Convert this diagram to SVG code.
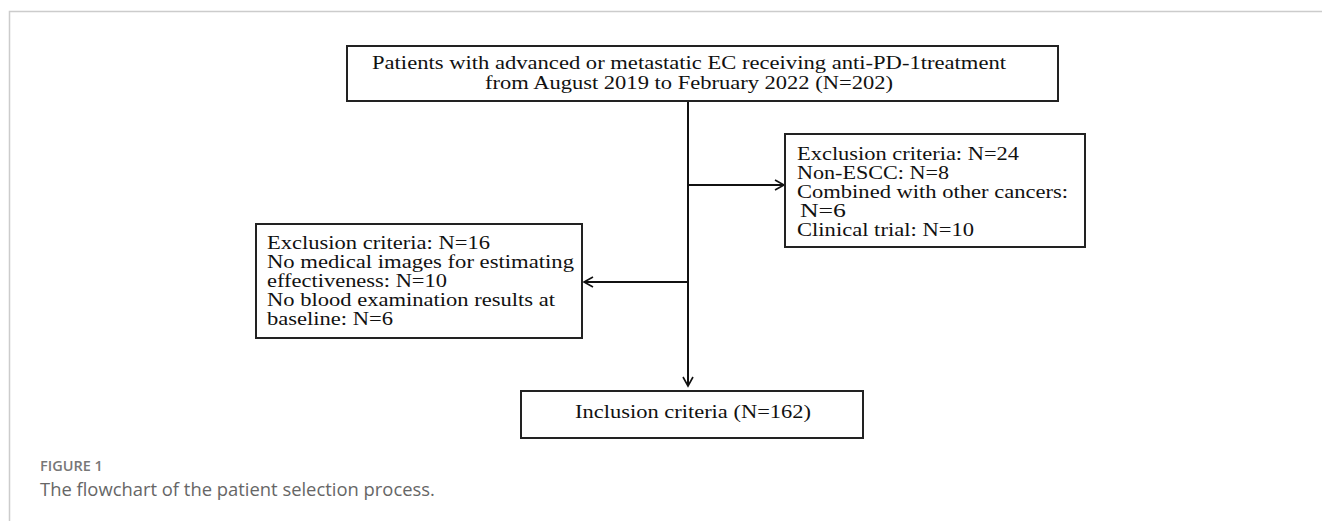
<svg xmlns="http://www.w3.org/2000/svg" width="1322" height="521" viewBox="0 0 1322 521">
<style>
.box{fill:#fff;stroke:#222;stroke-width:2}
.t{font-family:"Liberation Serif",serif;font-size:18px;fill:#111}
.c{stroke:#111;stroke-width:2;fill:none}
.cap1{font-family:"Open Sans","Liberation Sans",sans-serif;font-size:14.5px;fill:#777;font-weight:600}
.cap2{font-family:"Open Sans","Liberation Sans",sans-serif;font-size:18.4px;fill:#666}
</style>
<defs>
<marker id="arr" markerWidth="12" markerHeight="12" refX="10" refY="6" orient="auto" markerUnits="userSpaceOnUse">
<path d="M1,1 L10,6 L1,11" fill="none" stroke="#111" stroke-width="1.6"/>
</marker>
</defs>
<rect width="1322" height="521" fill="#fff"/>
<path d="M9.5,521 V11.5 H1322" fill="none" stroke="#ccc" stroke-width="1.5"/>
<g id="connectors">
<line class="c" x1="688" y1="101" x2="688" y2="386" marker-end="url(#arr)"/>
<line class="c" x1="688" y1="185" x2="784" y2="185" marker-end="url(#arr)"/>
<line class="c" x1="688" y1="282" x2="584" y2="282" marker-end="url(#arr)"/>
</g>
<g id="n_top">
<rect class="box" x="347" y="46" width="711" height="55"/>
<text class="t" x="372" y="69" textLength="634" lengthAdjust="spacingAndGlyphs">Patients with advanced or metastatic EC receiving anti-PD-1treatment</text>
<text class="t" x="485" y="89" textLength="408" lengthAdjust="spacingAndGlyphs">from August 2019 to February 2022 (N=202)</text>
</g>
<g id="n_right">
<rect class="box" x="785" y="134" width="300" height="113"/>
<text class="t" x="797" y="160" textLength="222" lengthAdjust="spacingAndGlyphs">Exclusion criteria: N=24</text>
<text class="t" x="797" y="179" textLength="152" lengthAdjust="spacingAndGlyphs">Non-ESCC: N=8</text>
<text class="t" x="797" y="198" textLength="271" lengthAdjust="spacingAndGlyphs">Combined with other cancers:</text>
<text class="t" x="800" y="217" textLength="46" lengthAdjust="spacingAndGlyphs">N=6</text>
<text class="t" x="797" y="236" textLength="177" lengthAdjust="spacingAndGlyphs">Clinical trial: N=10</text>
</g>
<g id="n_left">
<rect class="box" x="256" y="224" width="326" height="114"/>
<text class="t" x="267" y="249" textLength="223" lengthAdjust="spacingAndGlyphs">Exclusion criteria: N=16</text>
<text class="t" x="267" y="268" textLength="307" lengthAdjust="spacingAndGlyphs">No medical images for estimating</text>
<text class="t" x="267" y="287" textLength="180" lengthAdjust="spacingAndGlyphs">effectiveness: N=10</text>
<text class="t" x="267" y="306" textLength="288" lengthAdjust="spacingAndGlyphs">No blood examination results at</text>
<text class="t" x="267" y="325" textLength="126" lengthAdjust="spacingAndGlyphs">baseline: N=6</text>
</g>
<g id="n_bottom">
<rect class="box" x="521" y="391" width="342" height="47"/>
<text class="t" x="575" y="418" textLength="236" lengthAdjust="spacingAndGlyphs">Inclusion criteria (N=162)</text>
</g>
<text class="cap1" x="40" y="471">FIGURE 1</text>
<text class="cap2" x="40" y="496">The flowchart of the patient selection process.</text>
</svg>
